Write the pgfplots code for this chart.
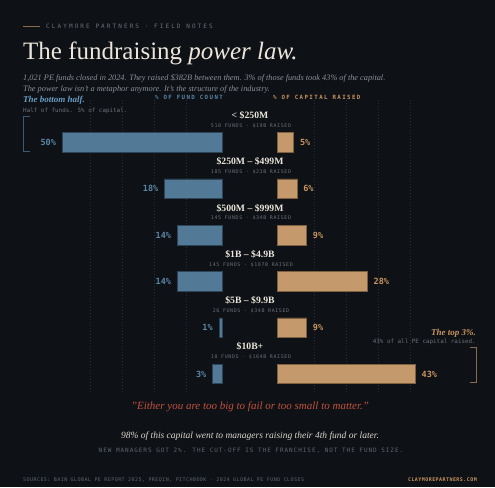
\documentclass[border=0pt]{standalone}
\usepackage{fontspec}
\usepackage{pgfplots}
\usepackage{pgfplotstable}
\pgfplotsset{compat=1.18}
\setmainfont{Liberation Serif}
\newfontfamily\mono{DejaVu Sans Mono}
\newfontfamily\monoA[LetterSpace=35]{DejaVu Sans Mono}
\newfontfamily\monoH[LetterSpace=24]{DejaVu Sans Mono}
\newfontfamily\monoN[LetterSpace=16]{DejaVu Sans Mono}
\newfontfamily\monoS[LetterSpace=12]{DejaVu Sans Mono}
\newfontfamily\monoF[LetterSpace=9]{DejaVu Sans Mono}

\definecolor{bg}{HTML}{0E1116}
\definecolor{cream}{HTML}{ECE6DA}
\definecolor{subgray}{HTML}{8C9098}
\definecolor{smallgray}{HTML}{6B7078}
\definecolor{dimgray}{HTML}{5F656E}
\definecolor{gridc}{HTML}{2A3038}
\definecolor{barblue}{HTML}{527A96}
\definecolor{barblueedge}{HTML}{2C4558}
\definecolor{labblue}{HTML}{5B86A6}
\definecolor{headblue}{HTML}{6A9CC4}
\definecolor{bartan}{HTML}{C49A6C}
\definecolor{bartanedge}{HTML}{7E5F40}
\definecolor{labtan}{HTML}{C8955F}
\definecolor{quotered}{HTML}{C4513C}
\definecolor{brblue}{HTML}{3B5870}
\definecolor{brtan}{HTML}{8A6A48}
\definecolor{lightcream}{HTML}{DCD6CC}

\pgfplotstableread{
row count capital
1 50 5
2 18 6
3 14 9
4 14 28
5 1 9
6 3 43
}\funddata

\begin{document}
\begin{tikzpicture}
\fill[bg] (0,0) rectangle (495pt,487pt);
\begin{scope}[x=1pt,y=-1pt,yshift=487pt]
  % grid
  \foreach \gx in {90,122,154,186,314,346,378,410}{
    \draw[gridc, line width=0.6pt, dash pattern=on 0.8pt off 2.2pt] (\gx,100) -- (\gx,392);
  }
  % header
  \draw[brtan, line width=1.2pt] (23,26.5) -- (40,26.5);
  \node[anchor=base west, inner sep=0pt, text=smallgray] at (46,28.5) {\monoA\fontsize{6}{7}\selectfont CLAYMORE PARTNERS · FIELD NOTES};
  \node[anchor=base west, inner sep=0pt, text=cream] at (23,60) {\fontsize{25}{30}\selectfont The fundraising \textit{power law.}};
  \node[anchor=base west, inner sep=0pt, text=subgray] at (23,81) {\itshape\fontsize{8.3}{10}\selectfont 1,021 PE funds closed in 2024. They raised \$382B between them. 3\% of those funds took 43\% of the capital.};
  \node[anchor=base west, inner sep=0pt, text=subgray] at (23,92) {\itshape\fontsize{8.3}{10}\selectfont The power law isn't a metaphor anymore. It's the structure of the industry.};
  \node[anchor=base west, inner sep=0pt, text=headblue] at (23,103) {\bfseries\itshape\fontsize{9}{10}\selectfont The bottom half.};
  \node[anchor=base west, inner sep=0pt, text=smallgray] at (23,112.5) {\mono\fontsize{5.9}{7}\selectfont Half of funds. 5\% of capital.};
  \node[anchor=base west, inner sep=0pt, text=labblue] at (155,99.5) {\monoH\bfseries\fontsize{5.8}{7}\selectfont \% OF FUND COUNT};
  \node[anchor=base west, inner sep=0pt, text=labtan] at (273,99.5) {\monoH\bfseries\fontsize{5.8}{7}\selectfont \% OF CAPITAL RAISED};
  % category labels
  \foreach \yy/\lab/\sub in {118.5/{< \$250M}/{510 FUNDS · \$19B RAISED},
                             164.8/{\$250M – \$499M}/{185 FUNDS · \$23B RAISED},
                             211.1/{\$500M – \$999M}/{145 FUNDS · \$34B RAISED},
                             257.4/{\$1B – \$4.9B}/{145 FUNDS · \$107B RAISED},
                             303.7/{\$5B – \$9.9B}/{26 FUNDS · \$34B RAISED},
                             350.0/{\$10B+}/{10 FUNDS · \$164B RAISED}}{
    \node[anchor=base, inner sep=0pt, text=cream] at (250,\yy) {\bfseries\fontsize{9.7}{11}\selectfont \lab};
    \node[anchor=base, inner sep=0pt, text=smallgray] at (251,\yy+8.8) {\monoS\fontsize{5}{6}\selectfont \sub};
  }
  % brackets
  \draw[brblue, line width=1pt] (30,116.5) -- (23.5,116.5) -- (23.5,152) -- (30,152);
  \draw[brtan, line width=1pt] (470,347.5) -- (476.5,347.5) -- (476.5,383) -- (470,383);
  \node[anchor=base east, inner sep=0pt, text=labtan] at (476,335.5) {\bfseries\itshape\fontsize{9}{10}\selectfont The top 3\%.};
  \node[anchor=base east, inner sep=0pt, text=smallgray] at (476,343.5) {\mono\fontsize{5.9}{7}\selectfont 43\% of all PE capital raised.};
  % bottom
  \node[anchor=base, inner sep=0pt, text=quotered] at (250,410) {\itshape\fontsize{11}{13}\selectfont "Either you are too big to fail or too small to matter."};
  \node[anchor=base, inner sep=0pt, text=lightcream] at (250,439) {\itshape\fontsize{9.5}{11}\selectfont 98\% of this capital went to managers raising their 4th fund or later.};
  \node[anchor=base, inner sep=0pt, text=dimgray] at (251,452.3) {\monoN\fontsize{6}{7}\selectfont NEW MANAGERS GOT 2\%. THE CUT-OFF IS THE FRANCHISE, NOT THE FUND SIZE.};
  \node[anchor=base west, inner sep=0pt, text=dimgray] at (23,481.8) {\monoF\fontsize{5}{6}\selectfont SOURCES: BAIN GLOBAL PE REPORT 2025, PREQIN, PITCHBOOK · 2024 GLOBAL PE FUND CLOSES};
  \node[anchor=base east, inner sep=0pt, text=labtan] at (477,481.8) {\monoF\bfseries\fontsize{5}{6}\selectfont CLAYMOREPARTNERS.COM};
\end{scope}

% fund count (left)
\begin{axis}[
  at={(55.9pt,89.85pt)}, anchor=south west, scale only axis,
  width=166.4pt, height=277.8pt,
  xmin=0, xmax=52, x dir=reverse,
  ymin=0.5, ymax=6.5, y dir=reverse,
  hide axis, clip=false,
  xbar, bar width=19.6pt, bar shift=0pt,
  point meta=x,
  /pgf/number format/assume math mode=true,
  nodes near coords={\pgfmathprintnumber{\pgfplotspointmeta}\%},
  every node near coord/.append style={anchor=east, inner sep=0pt, xshift=-6pt, text=labblue, font=\mono\bfseries\fontsize{8.5}{10}\selectfont},
]
\addplot[fill=barblue, draw=barblueedge, line width=0.8pt] table[x=count, y=row] {\funddata};
\end{axis}

% capital raised (right)
\begin{axis}[
  at={(277.7pt,89.85pt)}, anchor=south west, scale only axis,
  width=192pt, height=277.8pt,
  xmin=0, xmax=60,
  ymin=0.5, ymax=6.5, y dir=reverse,
  hide axis, clip=false,
  xbar, bar width=19.6pt, bar shift=0pt,
  point meta=x,
  /pgf/number format/assume math mode=true,
  nodes near coords={\pgfmathprintnumber{\pgfplotspointmeta}\%},
  every node near coord/.append style={anchor=west, inner sep=0pt, xshift=6pt, text=labtan, font=\mono\bfseries\fontsize{8.5}{10}\selectfont},
]
\addplot[fill=bartan, draw=bartanedge, line width=0.8pt] table[x=capital, y=row] {\funddata};
\end{axis}
\end{tikzpicture}
\end{document}
